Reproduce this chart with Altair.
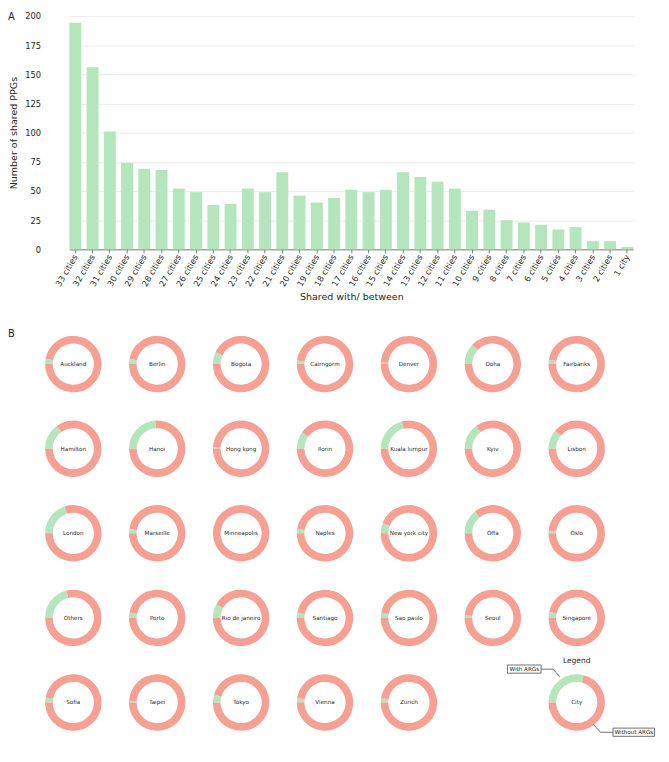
import math
import altair as alt
import pandas as pd

FONT = "DejaVu Sans"
GREEN = "#b4e5bd"
SALMON = "#f5a092"
TEXT = "#262626"

# ---- Panel A data ----
share_labels = ["33 cities", "32 cities", "31 cities", "30 cities", "29 cities", "28 cities",
                "27 cities", "26 cities", "25 cities", "24 cities", "23 cities", "22 cities",
                "21 cities", "20 cities", "19 cities", "18 cities", "17 cities", "16 cities",
                "15 cities", "14 cities", "13 cities", "12 cities", "11 cities", "10 cities",
                "9 cities", "8 cities", "7 cities", "6 cities", "5 cities", "4 cities",
                "3 cities", "2 cities", "1 city"]
share_counts = [194, 156, 101, 74, 69, 68, 52, 49, 38, 39, 52, 49, 66, 46, 40, 44, 51,
                49, 51, 66, 62, 58, 52, 33, 34, 25, 23, 21, 17, 19, 7, 7, 2]
y_ticks = [0, 25, 50, 75, 100, 125, 150, 175, 200]

# ---- Panel B data ----
cities = ["Auckland", "Berlin", "Bogota", "Cairngorm", "Denver", "Doha", "Fairbanks",
          "Hamilton", "Hanoi", "Hong kong", "Ilorin", "Kuala lumpur", "Kyiv", "Lisbon",
          "London", "Marseille", "Minneapolis", "Naples", "New york city", "Offa", "Oslo",
          "Others", "Porto", "Rio de janeiro", "Santiago", "Sao paulo", "Seoul", "Singapore",
          "Sofia", "Taipei", "Tokyo", "Vienna", "Zurich"]
arg_fraction = [0.03, 0.03, 0.07, 0.02, 0.01, 0.12, 0.025,
                0.15, 0.24, 0.01, 0.10, 0.21, 0.15, 0.11,
                0.20, 0.025, 0.0, 0.025, 0.06, 0.14, 0.015,
                0.21, 0.03, 0.08, 0.03, 0.03, 0.015, 0.035,
                0.03, 0.01, 0.045, 0.025, 0.025]
legend_name = "City"
legend_fraction = 0.29
segments = ["With ARGs", "Without ARGs"]
N_COLS = 7

# ---------------- Panel A ----------------
bars_df = pd.DataFrame({"label": share_labels, "count": share_counts})

bars = alt.Chart(bars_df).mark_bar(color=GREEN).encode(
    x=alt.X("label:N", sort=share_labels,
            scale=alt.Scale(range=[24, 594], paddingInner=0.31, paddingOuter=0),
            axis=alt.Axis(title="Shared with/ between", labelAngle=-60,
                          labelFontSize=8.4, titleFontSize=9.6, titleFontWeight="normal",
                          labelColor=TEXT, titleColor=TEXT, domainColor="#7a7a7a",
                          tickColor="#7a7a7a", tickSize=3.5, labelPadding=2,
                          titlePadding=4, grid=False)),
    y=alt.Y("count:Q", scale=alt.Scale(domain=[0, 200], nice=False),
            axis=alt.Axis(title="Number of shared PPGs", values=y_ticks,
                          labelFontSize=8.4, titleFontSize=9.6, titleFontWeight="normal",
                          labelColor=TEXT, titleColor=TEXT, domain=False, ticks=False,
                          labelPadding=5, titlePadding=6, grid=True,
                          gridColor="#e6e6e6", gridWidth=0.8)),
)

a_label = alt.Chart(pd.DataFrame({"t": ["A"]})).mark_text(
    align="left", baseline="top", fontSize=10, font=FONT, color=TEXT
).encode(x=alt.value(-38), y=alt.value(-4), text="t:N")

panel_a = alt.layer(bars, a_label).properties(width=622, height=236)

# ---------------- Panel B ----------------
arc_rows = []
label_rows = []
for i, (c, f) in enumerate(zip(cities, arg_fraction)):
    col, row = i % N_COLS, i // N_COLS
    arc_rows.append({"city": c, "col": col, "row": row, "seg": segments[0], "t0": 0.0, "t1": f})
    arc_rows.append({"city": c, "col": col, "row": row, "seg": segments[1], "t0": f, "t1": 1.0})
    label_rows.append({"city": c, "col": col, "row": row})
lg_col, lg_row = N_COLS - 1, 4
arc_rows.append({"city": legend_name, "col": lg_col, "row": lg_row, "seg": segments[0], "t0": 0.0, "t1": legend_fraction})
arc_rows.append({"city": legend_name, "col": lg_col, "row": lg_row, "seg": segments[1], "t0": legend_fraction, "t1": 1.0})
label_rows.append({"city": legend_name, "col": lg_col, "row": lg_row})

arcs_df = pd.DataFrame(arc_rows)
labels_df = pd.DataFrame(label_rows)
legend_df = pd.DataFrame({"col": [lg_col], "row": [lg_row]})

xs = alt.Scale(domain=[-0.3302, 7.0047], nice=False, zero=False)
ys = alt.Scale(domain=[-0.4094, 4.4094], nice=False, zero=False, reverse=True)
X = alt.X("col:Q", scale=xs, axis=None)
Y = alt.Y("row:Q", scale=ys, axis=None)

arcs = alt.Chart(arcs_df).mark_arc(innerRadius=20.8, outerRadius=28.5).encode(
    x=X, y=Y,
    theta=alt.Theta("t0:Q", stack=False,
                    scale=alt.Scale(domain=[0, 1], range=[1.5 * math.pi, 3.5 * math.pi])),
    theta2="t1:Q",
    color=alt.Color("seg:N", scale=alt.Scale(domain=segments, range=[GREEN, SALMON]), legend=None),
)

city_text = alt.Chart(labels_df).mark_text(fontSize=5.7, font=FONT, color=TEXT).encode(
    x=X, y=Y, text="city:N")

b_label = alt.Chart(pd.DataFrame({"t": ["B"]})).mark_text(
    align="left", baseline="top", fontSize=10, font=FONT, color=TEXT
).encode(x=alt.value(-38), y=alt.value(0), text="t:N")

lg = alt.Chart(legend_df)
legend_title = lg.mark_text(dy=-41.7, fontSize=7.6, font=FONT, color=TEXT).encode(
    x=X, y=Y, text=alt.value("Legend"))
box_with = lg.mark_point(shape="M-70,-37.9H-36V-29.6H-70Z", size=4, filled=False,
                         color="#333333", strokeWidth=0.7, opacity=1).encode(x=X, y=Y)
box_without = lg.mark_point(shape="M36.7,25.9H78.7V34.2H36.7Z", size=4, filled=False,
                            color="#333333", strokeWidth=0.7, opacity=1).encode(x=X, y=Y)
conn_with = lg.mark_point(shape="M-36,-33.7H-24L-17,-26", size=4, filled=False,
                          color="#333333", strokeWidth=0.7, opacity=1).encode(x=X, y=Y)
conn_without = lg.mark_point(shape="M17,22.3L24,30.1H36.7", size=4, filled=False,
                             color="#333333", strokeWidth=0.7, opacity=1).encode(x=X, y=Y)
text_with = lg.mark_text(dx=-53, dy=-33.7, fontSize=5.7, font=FONT, color=TEXT).encode(
    x=X, y=Y, text=alt.value("With ARGs"))
text_without = lg.mark_text(dx=57.7, dy=30.1, fontSize=5.7, font=FONT, color=TEXT).encode(
    x=X, y=Y, text=alt.value("Without ARGs"))

panel_b = alt.layer(arcs, city_text, b_label, legend_title, box_with, box_without,
                    conn_with, conn_without, text_with, text_without).properties(width=622, height=412)

chart = alt.vconcat(panel_a, panel_b, spacing=29).properties(padding=0).configure(
    font=FONT).configure_view(strokeWidth=0, stroke="transparent")

chart.save("out.html", embed_options={"renderer": "svg", "actions": False})
